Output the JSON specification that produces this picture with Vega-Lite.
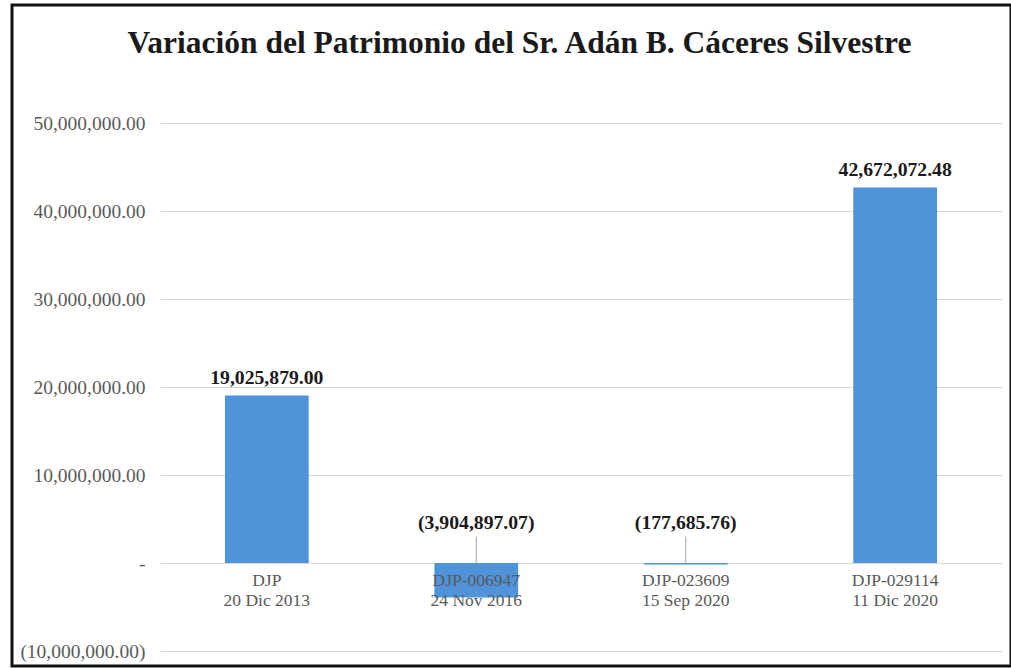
{
  "$schema": "https://vega.github.io/schema/vega-lite/v6.json",
  "width": 999,
  "height": 661,
  "autosize": {"type": "none"},
  "padding": {"left": 12, "top": 5, "right": 0, "bottom": 2},
  "background": "white",
  "title": {
    "text": "Variación del Patrimonio del Sr. Adán  B. Cáceres Silvestre",
    "font": "Liberation Serif",
    "fontSize": 31.5,
    "fontWeight": "bold",
    "color": "#1a1a1a",
    "anchor": "middle",
    "offset": -79,
    "baseline": "alphabetic",
    "dx": 8
  },
  "config": {
    "view": {"stroke": "#111111", "strokeWidth": 3},
    "font": "Liberation Serif"
  },
  "data": {
    "values": [
      {"cat": "DJP\n20 Dic 2013", "value": 19025879.00, "label": "19,025,879.00"},
      {"cat": "DJP-006947\n24 Nov 2016", "value": -3904897.07, "label": "(3,904,897.07)"},
      {"cat": "DJP-023609\n15 Sep 2020", "value": -177685.76, "label": "(177,685.76)"},
      {"cat": "DJP-029114\n11 Dic 2020", "value": 42672072.48, "label": "42,672,072.48"}
    ]
  },
  "encoding": {
    "x": {
      "field": "cat",
      "type": "nominal",
      "sort": null,
      "axis": null,
      "scale": {"range": [148, 990], "paddingInner": 0.6, "paddingOuter": 0.31}
    }
  },
  "layer": [
    {
      "mark": {"type": "bar", "color": "#5093d8"},
      "encoding": {
        "y": {
          "field": "value",
          "type": "quantitative",
          "scale": {"domain": [-11700000, 63410000], "nice": false, "zero": false},
          "axis": {
            "values": [-10000000, 0, 10000000, 20000000, 30000000, 40000000, 50000000],
            "labelExpr": "datum.value < 0 ? '(' + format(-datum.value, ',.2f') + ')' : datum.value == 0 ? '-\u00a0\u00a0' : format(datum.value, ',.2f') + '\u00a0'",
            "offset": -148,
            "labelPadding": 15,
            "ticks": false,
            "domain": false,
            "grid": true,
            "gridColor": "#d9d9d9",
            "gridWidth": 1,
            "labelFont": "Liberation Serif",
            "labelFontSize": 19.5,
            "labelColor": "#595959",
            "title": null
          }
        },
        "y2": {"datum": 0}
      }
    },
    {
      "transform": [{"filter": "datum.value < 0"}],
      "mark": {"type": "rule", "color": "#a6a6a6", "strokeWidth": 1},
      "encoding": {
        "y": {"datum": 0},
        "y2": {"datum": 3000000}
      }
    },
    {
      "transform": [{"filter": "datum.value > 0"}],
      "mark": {"type": "text", "font": "Liberation Serif", "fontSize": 19.7, "fontWeight": "bold", "color": "#1a1a1a", "baseline": "alphabetic", "dy": -12},
      "encoding": {
        "y": {"field": "value", "type": "quantitative"},
        "text": {"field": "label"}
      }
    },
    {
      "transform": [{"filter": "datum.value < 0"}],
      "mark": {"type": "text", "font": "Liberation Serif", "fontSize": 19.7, "fontWeight": "bold", "color": "#1a1a1a", "baseline": "alphabetic", "dy": -34},
      "encoding": {
        "y": {"datum": 0},
        "text": {"field": "label"}
      }
    },
    {
      "mark": {"type": "text", "font": "Liberation Serif", "fontSize": 17.5, "color": "#595959", "baseline": "alphabetic", "dy": 23, "lineHeight": 20, "lineBreak": "\n"},
      "encoding": {
        "y": {"datum": 0},
        "text": {"field": "cat"}
      }
    }
  ]
}
